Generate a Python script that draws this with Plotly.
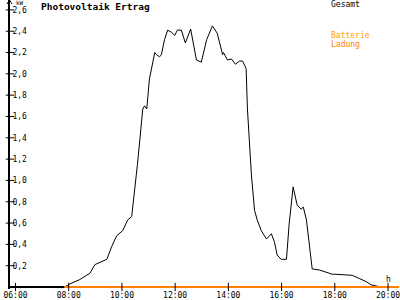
import plotly.graph_objects as go

# ---- data ----
times = ["07:51", "08:03", "08:25", "08:36", "08:48", "08:59", "09:10", "09:26", "09:37", "09:48",
         "10:02", "10:13", "10:22", "10:35", "10:47", "10:51", "10:56", "11:02", "11:14", "11:18",
         "11:25", "11:29", "11:36", "11:43", "11:52", "11:59", "12:05", "12:14", "12:23", "12:35",
         "12:48", "12:59", "13:11", "13:24", "13:35", "13:47", "13:49", "13:58", "14:07", "14:16",
         "14:25", "14:32", "14:40", "14:43", "14:52", "14:59", "15:05", "15:14", "15:26", "15:37",
         "15:44", "15:50", "15:59", "16:11", "16:17", "16:26", "16:35", "16:44", "16:49", "16:56",
         "17:09", "17:25", "17:47", "17:54", "18:00", "18:39", "18:55", "19:11", "19:22", "19:38", "19:44"]
gesamt_kw = [0.00, 0.03, 0.07, 0.10, 0.13, 0.21, 0.23, 0.26, 0.38, 0.48,
             0.53, 0.63, 0.66, 1.15, 1.67, 1.70, 1.67, 1.95, 2.20, 2.18,
             2.16, 2.18, 2.32, 2.41, 2.39, 2.36, 2.41, 2.41, 2.29, 2.42,
             2.13, 2.11, 2.32, 2.45, 2.38, 2.18, 2.20, 2.13, 2.14, 2.09,
             2.12, 2.12, 2.05, 1.67, 1.05, 0.72, 0.63, 0.53, 0.45, 0.50,
             0.42, 0.30, 0.26, 0.26, 0.59, 0.94, 0.77, 0.73, 0.75, 0.63,
             0.17, 0.16, 0.13, 0.12, 0.12, 0.11, 0.08, 0.05, 0.02, 0.01, 0.00]
ladung_times = ["07:50", "20:25"]
ladung_kw = [0.0, 0.0]

y_ticks = [0.2, 0.4, 0.6, 0.8, 1.0, 1.2, 1.4, 1.6, 1.8, 2.0, 2.2, 2.4, 2.6]
y_tick_labels = ["0,2", "0,4", "0,6", "0,8", "1,0", "1,2", "1,4", "1,6", "1,8", "2,0", "2,2", "2,4", "2,6"]
x_ticks = ["06:00", "08:00", "10:00", "12:00", "14:00", "16:00", "18:00", "20:00"]
x_tick_labels = ["06:00", "08:00", "10:00", "12:00", "14:00", "16:00", "18:00", "20:00"]


def to_h(s):
    h, m = s.split(":")
    return int(h) + int(m) / 60.0


X0, X1 = 5.794, 20.412
Y0, Y1 = -0.0186, 2.6929
FONT = "DejaVu Sans Mono"
ORANGE = "#FF8000"

fig = go.Figure()
fig.add_trace(go.Scatter(x=[to_h(t) for t in times], y=gesamt_kw, mode="lines",
                         line=dict(color="black", width=1), hoverinfo="skip"))
fig.add_trace(go.Scatter(x=[to_h(t) for t in ladung_times], y=ladung_kw, mode="lines",
                         line=dict(color=ORANGE, width=2), hoverinfo="skip"))
# crossing tick marks
fig.add_trace(go.Scatter(x=[X0] * len(y_ticks), y=y_ticks, mode="markers", cliponaxis=False,
                         marker=dict(symbol="line-ew", size=6, line=dict(color="black", width=1)),
                         hoverinfo="skip"))
fig.add_trace(go.Scatter(x=[to_h(t) for t in x_ticks], y=[0] * len(x_ticks), mode="markers",
                         cliponaxis=False,
                         marker=dict(symbol="line-ns", size=6, line=dict(color="black", width=1)),
                         hoverinfo="skip"))

W, H = 400, 300
L, R, T, B = 10, 0, 0, 8
PW, PH = W - L - R, H - T - B


def px(x, y):
    return (x - L) / PW, 1 - (y - T) / PH


ax1, ay1 = px(7, 4)
ax2, ay2 = px(9.5, 0)
ax3, ay3 = px(12, 4)
shapes = [dict(type="path", xref="paper", yref="paper",
               path=f"M {ax1} {ay1} L {ax2} {ay2} L {ax3} {ay3}",
               line=dict(color="black", width=1))]

annotations = [
    dict(text="<b>Photovoltaik Ertrag</b>", x=39, y=7, font=dict(size=9.5, color="black", family=FONT)),
    dict(text="kW", x=14, y=3, font=dict(size=6, color="black", family=FONT)),
    dict(text="Gesamt", x=330, y=4.5, font=dict(size=8, color="black", family=FONT)),
    dict(text="Batterie", x=330, y=36, font=dict(size=8, color="#FFA000", family=FONT)),
    dict(text="Ladung", x=330, y=44.5, font=dict(size=8, color=ORANGE, family=FONT)),
    dict(text="h", x=385, y=282, font=dict(size=8, color="black", family=FONT)),
]
ann_objs = []
for a in annotations:
    xx, yy = px(a["x"], a["y"])
    ann_objs.append(dict(text=a["text"], x=xx, y=yy, xref="paper", yref="paper",
                         xanchor="left", yanchor="middle", showarrow=False, font=a["font"]))

fig.update_layout(
    width=W, height=H,
    margin=dict(l=L, r=R, t=T, b=B, pad=0),
    paper_bgcolor="white", plot_bgcolor="white",
    showlegend=False,
    shapes=shapes,
    annotations=ann_objs,
    xaxis=dict(range=[X0, X1], showgrid=False, zeroline=False, showline=False,
               ticks="", layer="below traces",
               tickvals=[to_h(t) for t in x_ticks], ticktext=x_tick_labels,
               ticklabeloverflow="allow",
               tickfont=dict(family=FONT, size=8, color="black")),
    yaxis=dict(range=[Y0, Y1], showgrid=False, zeroline=True, zerolinecolor="black",
               zerolinewidth=2, showline=True,
               linecolor="black", linewidth=2, ticks="", layer="below traces",
               tickvals=y_ticks, ticktext=y_tick_labels, ticklabelposition="inside",
               ticklabelstandoff=1, ticklabeloverflow="allow",
               tickfont=dict(family=FONT, size=8, color="black")),
)

fig.write_html("out.html")
